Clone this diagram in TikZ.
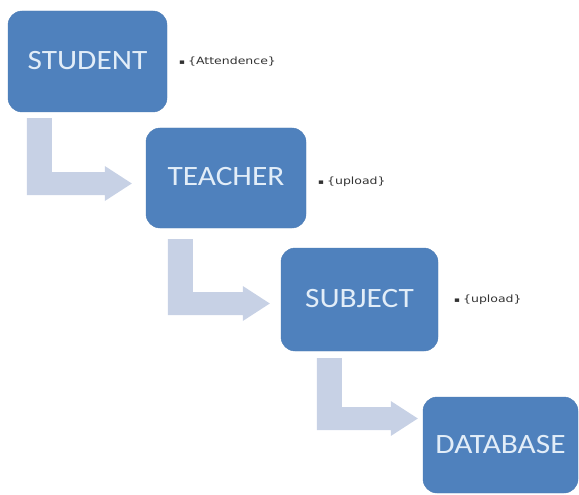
\documentclass[tikz,border=0pt]{standalone}
\usepackage{fontspec}
\usetikzlibrary{calc}
\newfontfamily\boxfont[FakeStretch=1.12]{Carlito}
\newfontfamily\labfont[FakeStretch=1.25]{DejaVu Sans}
\definecolor{boxblue}{HTML}{4F81BD}
\definecolor{boxtext}{HTML}{E2EDF8}
\definecolor{arrowgrey}{HTML}{C7D1E5}
\definecolor{labtext}{HTML}{333333}
\tikzset{
  stage/.style={rectangle, rounded corners=14pt, fill=boxblue, draw=boxblue!95!black, line width=0.4pt,
    text=boxtext, font=\boxfont\fontsize{28}{30}\selectfont, inner sep=0pt},
  note/.style={anchor=west, text=labtext, font=\labfont\fontsize{10}{12}\selectfont, inner sep=0pt},
  bent/.style={fill=arrowgrey}
}
% #1 source, #2 target, #3 offset of bar top-left from source.south west, #4 offset of tip from target.west
\newcommand{\bentarrow}[4]{%
  \path[bent] let \p1=($(#1.south west)+(#3)$), \p2=($(#2.west)+(#4)$) in
    (\x1,\y1) -- (\x1+25pt,\y1) -- (\x1+25pt,\y2+11.5pt) -- (\x2-27pt,\y2+11.5pt)
    -- (\x2-27pt,\y2+17.5pt) -- (\x2,\y2) -- (\x2-27pt,\y2-17.5pt) -- (\x2-27pt,\y2-11.5pt)
    -- (\x1,\y2-11.5pt) -- cycle;}
\newcommand{\blt}{\raisebox{0.5pt}{\scalebox{0.7}{▪}}\hspace{3pt}}
\begin{document}
\begin{tikzpicture}[x=1pt,y=-1pt]
\useasboundingbox (0,0) rectangle (579,495);
\node[stage, minimum width=159pt, minimum height=101pt] (student) at (87.5,61.5) {\raisebox{3pt}{STUDENT}};
\node[stage, minimum width=160pt, minimum height=100pt] (teacher) at (226,178) {\raisebox{3pt}{TEACHER}};
\node[stage, minimum width=157pt, minimum height=103pt] (subject) at (359.5,299.5) {\raisebox{2.5pt}{SUBJECT}};
\node[stage, minimum width=155pt, minimum height=96pt] (database) at (500.5,445) {DATABASE};
\bentarrow{student}{teacher}{19,6}{-14,5.5}
\bentarrow{teacher}{subject}{22,11}{-11,4}
\bentarrow{subject}{database}{36,7}{-5,-26.5}
\node[note] (lab1) at (179,62) {\blt\{Attendence\}};
\node[note] (lab2) at (318,182) {\blt\{upload\}};
\node[note] (lab3) at (454,300) {\blt\{upload\}};
\end{tikzpicture}
\end{document}
